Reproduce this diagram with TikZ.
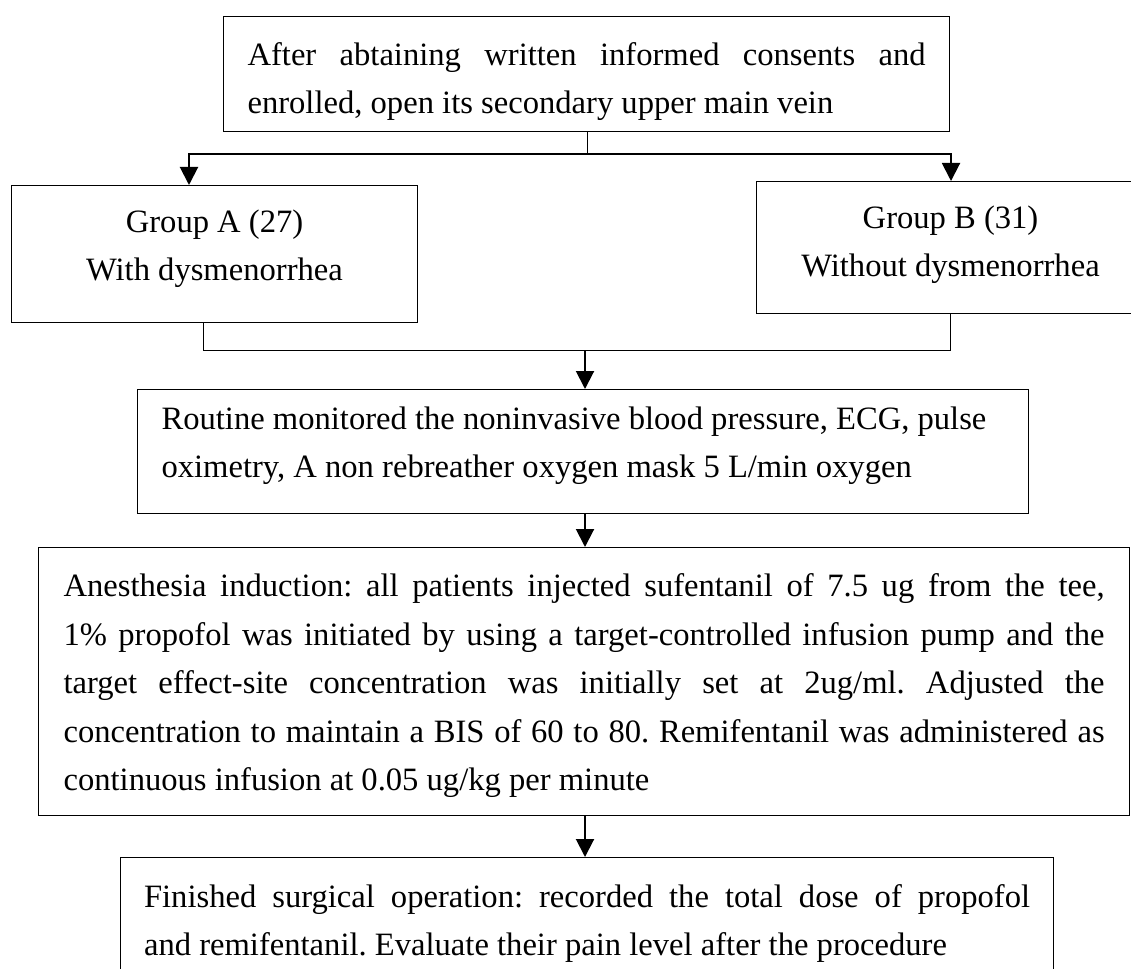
\documentclass[tikz,border=0pt]{standalone}
\usepackage{fontspec}
\setmainfont{Liberation Serif}
\usetikzlibrary{arrows.meta}
\newcommand\jl[1]{\hbox to\hsize{#1}}
\newcommand\rl[1]{\hbox to\hsize{#1\hfil}}
\newcommand\cl[1]{\hbox to\hsize{\hfil#1\hfil}}
\newcommand\tstrut[1]{\rule{0pt}{#1}}
\newcommand\dstrut[1]{\rule[-#1]{0pt}{0pt}}
\newcommand\tb[3]{\vtop{\hsize=#1\relax\fontsize{32.6pt}{#2}\selectfont\frenchspacing #3}}
\begin{document}
\begin{tikzpicture}[x=1pt,y=1pt,
  box/.style={draw=black, line width=1.1pt, inner ysep=0pt, anchor=north west},
  thinline/.style={draw=black, line width=1pt},
  heavy/.style={draw=black, line width=2pt, -{Triangle[width=18pt,length=18pt]}},
]
\useasboundingbox (0,0) rectangle (1131,-968);
\fill[white] (0,0) rectangle (1131,-968);

\node[box, inner xsep=24pt] (b1) at (223,-16) {\tb{678pt}{48pt}{%
\jl{\tstrut{49pt}After abtaining written informed consents and}%
\rl{enrolled, open its secondary upper main vein\dstrut{18pt}}}};

\node[box, inner xsep=24pt] (ga) at (11,-185) {\tb{358pt}{48pt}{%
\cl{\tstrut{47pt}Group A (27)}%
\cl{With dysmenorrhea\dstrut{42pt}}}};

\node[box, inner xsep=24pt] (gb) at (756,-181) {\tb{340pt}{48pt}{%
\cl{\tstrut{47pt}Group B (31)}%
\cl{Without dysmenorrhea\dstrut{37pt}}}};

\node[box, inner xsep=24pt] (b3) at (137,-389) {\tb{843pt}{48pt}{%
\rl{\tstrut{40pt}Routine monitored the noninvasive blood pressure, ECG, pulse}%
\rl{oximetry, A non rebreather oxygen mask 5 L/min oxygen\dstrut{36pt}}}};

\node[box, inner xsep=25pt] (b4) at (38,-547) {\tb{1041pt}{48.5pt}{%
\jl{\tstrut{49pt}Anesthesia induction: all patients injected sufentanil of 7.5 ug from the tee,}%
\jl{1\% propofol was initiated by using a target-controlled infusion pump and the}%
\jl{target effect-site concentration was initially set at 2ug/ml. Adjusted the}%
\jl{concentration to maintain a BIS of 60 to 80. Remifentanil was administered as}%
\rl{continuous infusion at 0.05 ug/kg per minute\dstrut{25pt}}}};

\node[box, inner xsep=23.5pt] (b5) at (120,-857) {\tb{886pt}{48pt}{%
\jl{\tstrut{50pt}Finished surgical operation: recorded the total dose of propofol}%
\rl{and remifentanil. Evaluate their pain level after the procedure\dstrut{22pt}}}};

\coordinate (j1) at (587,-154);
\coordinate (jL) at (189,-154);
\coordinate (jR) at (951,-154);
\draw[thinline] (b1.south -| j1) -- (j1);
\draw[heavy] (j1) -| (ga.north -| jL);
\draw[heavy] (j1) -| (gb.north -| jR);

\coordinate (aS) at (203,-350);
\coordinate (bS) at (950,-350);
\coordinate (j2) at (585,-350);
\draw[thinline] (aS |- ga.south) -- (aS) -- (bS) -- (bS |- gb.south);
\draw[heavy] (j2) -- (j2 |- b3.north);
\draw[heavy] (b3.south -| j2) -- (j2 |- b4.north);
\draw[heavy] (b4.south -| j2) -- (j2 |- b5.north);
\end{tikzpicture}
\end{document}
